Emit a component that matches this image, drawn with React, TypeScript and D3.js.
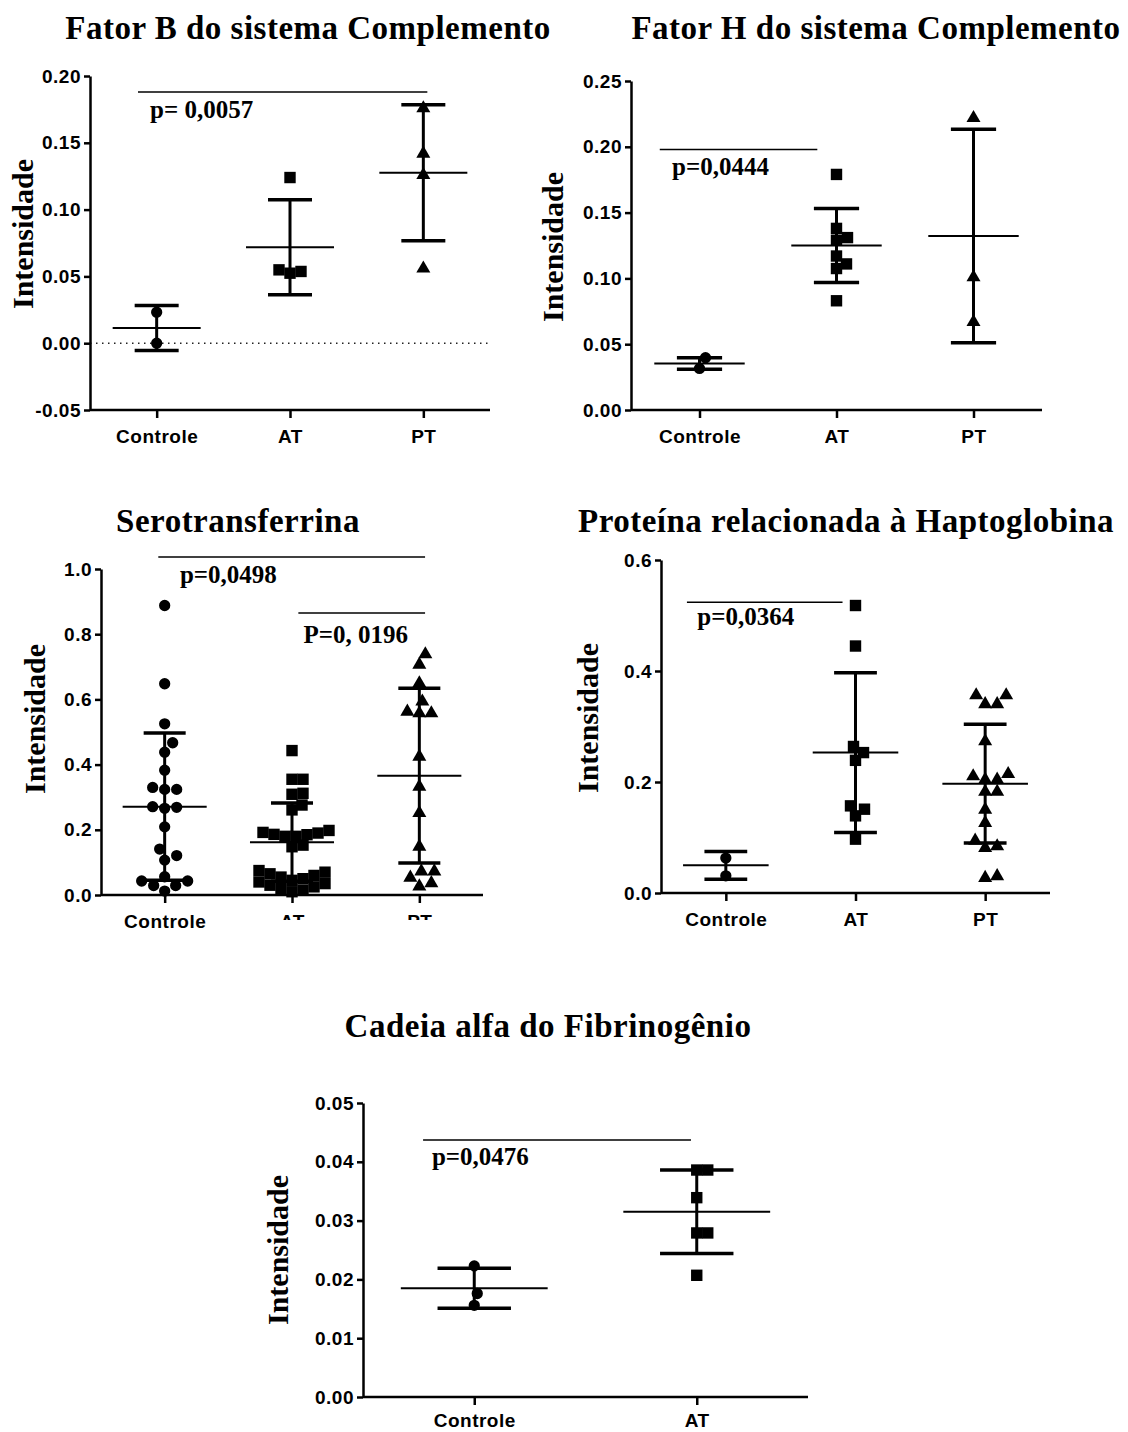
import * as d3 from "d3";
import { useEffect, useRef } from "react";

// Categories
const groups3 = ["Controle", "AT", "PT"];
const groups2 = ["Controle", "AT"];

// Fator B do sistema Complemento
const fatorBControle = [0.0232, 0.0];
const fatorBAT = [0.124, 0.0549, 0.0537, 0.0524];
const fatorBPT = [0.177, 0.143, 0.127, 0.057];
const fatorBMean = [0.0114, 0.0718, 0.1276];
const fatorBSD = [0.0169, 0.0356, 0.0509];
const fatorBTicks = [-0.05, 0, 0.05, 0.1, 0.15, 0.2];

// Fator H do sistema Complemento
const fatorHControle = [0.0397, 0.0316];
const fatorHAT = [0.179, 0.138, 0.131, 0.129, 0.117, 0.111, 0.1075, 0.083];
const fatorHPT = [0.223, 0.102, 0.068];
const fatorHMean = [0.0353, 0.125, 0.1322];
const fatorHSD = [0.0044, 0.0281, 0.0811];
const fatorHTicks = [0, 0.05, 0.1, 0.15, 0.2, 0.25];

// Serotransferrina
const seroControle = [0.888, 0.648, 0.525, 0.467, 0.438, 0.383, 0.33, 0.324, 0.324, 0.271, 0.269, 0.266, 0.209, 0.141, 0.121, 0.107, 0.056, 0.043, 0.043, 0.029, 0.029, 0.012];
const seroAT = [0.443, 0.355, 0.355, 0.312, 0.309, 0.276, 0.261, 0.198, 0.192, 0.19, 0.186, 0.185, 0.18, 0.18, 0.153, 0.148, 0.075, 0.07, 0.065, 0.06, 0.055, 0.05, 0.045, 0.04, 0.035, 0.03, 0.025, 0.02, 0.015, 0.01];
const seroPT = [0.743, 0.711, 0.654, 0.598, 0.567, 0.562, 0.562, 0.429, 0.337, 0.256, 0.153, 0.077, 0.077, 0.058, 0.041, 0.031];
const seroMean = [0.271, 0.162, 0.366];
const seroSD = [0.226, 0.12, 0.268];
const seroTicks = [0, 0.2, 0.4, 0.6, 0.8, 1.0];

// Proteína relacionada à Haptoglobina
const haptoControle = [0.063, 0.031];
const haptoAT = [0.518, 0.445, 0.264, 0.253, 0.239, 0.157, 0.151, 0.139, 0.097];
const haptoPT = [0.359, 0.359, 0.343, 0.343, 0.276, 0.217, 0.213, 0.207, 0.207, 0.185, 0.185, 0.153, 0.129, 0.097, 0.087, 0.084, 0.033, 0.03];
const haptoMean = [0.0498, 0.253, 0.197];
const haptoSD = [0.0249, 0.144, 0.107];
const haptoTicks = [0, 0.2, 0.4, 0.6];

// Cadeia alfa do Fibrinogênio
const fibControle = [0.0223, 0.0176, 0.0156];
const fibAT = [0.0386, 0.0386, 0.0339, 0.0279, 0.0279, 0.0207];
const fibMean = [0.0185, 0.0315];
const fibSD = [0.0034, 0.0071];
const fibTicks = [0, 0.01, 0.02, 0.03, 0.04, 0.05];

interface Bracket {
  from: string;
  to: string;
  d1: number;
  d2: number;
  y: number;
  text: string;
  tdx: number;
  tdy: number;
}

interface Panel {
  title: string;
  titleX: number;
  titleY: number;
  x0: number;
  x1: number;
  yTop: number;
  yBottom: number;
  domain: [number, number];
  ticks: number[];
  fmt: string;
  groups: string[];
  values: number[][];
  means: number[];
  sds: number[];
  labelX: number;
  labelY: number;
  brackets: Bracket[];
  zeroLine?: boolean;
  clipLabels?: boolean;
  labelDy?: number;
}

const panels: Panel[] = [
  {
    title: "Fator B do sistema Complemento", titleX: 308, titleY: 39,
    x0: 90, x1: 490, yTop: 76, yBottom: 410,
    domain: [-0.05, 0.2], ticks: fatorBTicks, fmt: ".2f",
    groups: groups3, values: [fatorBControle, fatorBAT, fatorBPT], means: fatorBMean, sds: fatorBSD,
    labelX: 33, labelY: 234,
    brackets: [{ from: "Controle", to: "PT", d1: -0.14, d2: 0.03, y: 0.188, text: "p= 0,0057", tdx: -0.05, tdy: 26 }],
    zeroLine: true,
  },
  {
    title: "Fator H do sistema Complemento", titleX: 876, titleY: 39,
    x0: 631, x1: 1042, yTop: 81, yBottom: 410,
    domain: [0, 0.25], ticks: fatorHTicks, fmt: ".2f",
    groups: groups3, values: [fatorHControle, fatorHAT, fatorHPT], means: fatorHMean, sds: fatorHSD,
    labelX: 563, labelY: 247,
    brackets: [{ from: "Controle", to: "AT", d1: -0.29, d2: -0.14, y: 0.198, text: "p=0,0444", tdx: -0.2, tdy: 26 }],
  },
  {
    title: "Serotransferrina", titleX: 238, titleY: 532,
    x0: 101, x1: 483, yTop: 569, yBottom: 895,
    domain: [0, 1], ticks: seroTicks, fmt: ".1f",
    groups: groups3, values: [seroControle, seroAT, seroPT], means: seroMean, sds: seroSD,
    labelX: 45, labelY: 719,
    brackets: [
      { from: "Controle", to: "PT", d1: -0.05, d2: 0.045, y: 1.037, text: "p=0,0498", tdx: 0.12, tdy: 26 },
      { from: "AT", to: "PT", d1: 0.05, d2: 0.045, y: 0.865, text: "P=0, 0196", tdx: 0.09, tdy: 30 },
    ],
    clipLabels: true,
  },
  {
    title: "Proteína relacionada à Haptoglobina", titleX: 846, titleY: 532,
    x0: 661, x1: 1050, yTop: 560, yBottom: 893,
    domain: [0, 0.6], ticks: haptoTicks, fmt: ".1f",
    groups: groups3, values: [haptoControle, haptoAT, haptoPT], means: haptoMean, sds: haptoSD,
    labelX: 598, labelY: 718,
    brackets: [{ from: "Controle", to: "AT", d1: -0.3, d2: -0.1, y: 0.524, text: "p=0,0364", tdx: -0.22, tdy: 23 }],
  },
  {
    title: "Cadeia alfa do Fibrinogênio", titleX: 548, titleY: 1037,
    x0: 363, x1: 808, yTop: 1103, yBottom: 1397,
    domain: [0, 0.05], ticks: fibTicks, fmt: ".2f",
    groups: groups2, values: [fibControle, fibAT], means: fibMean, sds: fibSD,
    labelX: 288, labelY: 1250,
    brackets: [{ from: "Controle", to: "AT", d1: -0.23, d2: -0.026, y: 0.0437, text: "p=0,0476", tdx: -0.19, tdy: 25 }],
    labelDy: 30,
  },
];

const symbols = [d3.symbolCircle, d3.symbolSquare, d3.symbolTriangle];
const symbolSizes = [100, 130, 85];
const sansFont = "'Liberation Sans', Arial, sans-serif";
const serifFont = "'Liberation Serif', 'Times New Roman', serif";

// simple greedy beeswarm: horizontal offsets for points sorted by value
function swarm(vals: number[], y: (v: number) => number, minDist: number) {
  const order = d3.range(vals.length).sort((a, b) => vals[a] - vals[b]);
  const placed: { x: number; y: number }[] = [];
  const out: number[] = new Array(vals.length).fill(0);
  for (const i of order) {
    const py = y(vals[i]);
    let best = 0;
    for (let k = 0; k < 400; k++) {
      const off = k === 0 ? 0 : (k % 2 ? 1 : -1) * Math.ceil(k / 2);
      if (placed.every((p) => Math.hypot(p.x - off, p.y - py) >= minDist)) {
        best = off;
        break;
      }
    }
    placed.push({ x: best, y: py });
    out[i] = best;
  }
  return out;
}

function drawPanel(svg: d3.Selection<SVGSVGElement, unknown, null, undefined>, p: Panel, idx: number) {
  const g = svg.append("g");
  const x = d3.scalePoint<string>().domain(p.groups).range([p.x0, p.x1]).padding(0.5);
  const y = d3.scaleLinear().domain(p.domain).range([p.yBottom, p.yTop]);
  const step = x.step();
  const fmt = d3.format(p.fmt);

  // title
  g.append("text")
    .attr("x", p.titleX)
    .attr("y", p.titleY)
    .attr("text-anchor", "middle")
    .style("font", `bold 33px ${serifFont}`)
    .style("letter-spacing", "0.5px")
    .text(p.title);

  // y label
  g.append("text")
    .attr("transform", `translate(${p.labelX},${p.labelY}) rotate(-90)`)
    .attr("text-anchor", "middle")
    .style("font", `bold 30px ${serifFont}`)
    .text("Intensidade");

  // dotted zero line
  if (p.zeroLine) {
    g.append("line")
      .attr("x1", p.x0).attr("x2", p.x1)
      .attr("y1", y(0)).attr("y2", y(0))
      .attr("stroke", "#222").attr("stroke-width", 1.5)
      .attr("stroke-dasharray", "1.5,4.5");
  }

  // axes
  const yAxis = g.append("g")
    .attr("transform", `translate(${p.x0},0)`)
    .call(d3.axisLeft(y).tickValues(p.ticks)
      .tickFormat((d) => fmt(d as number).replace("−", "-"))
      .tickSize(6).tickSizeOuter(0).tickPadding(3));
  yAxis.selectAll("path, line").attr("stroke", "#000").attr("stroke-width", 2.5);
  yAxis.selectAll("text")
    .attr("fill", "#000")
    .style("font", `bold 19px ${sansFont}`)
    .style("letter-spacing", "0.5px");

  const xAxis = g.append("g")
    .attr("transform", `translate(0,${p.yBottom})`)
    .call(d3.axisBottom(x).tickSize(8).tickSizeOuter(0));
  xAxis.select(".domain").attr("d", `M${p.x0},0H${p.x1}`);
  xAxis.selectAll("path, line").attr("stroke", "#000").attr("stroke-width", 2.5);
  const xt = xAxis.selectAll<SVGTextElement, string>("text")
    .attr("y", p.labelDy ?? 33)
    .attr("dy", null)
    .attr("fill", "#000")
    .style("font", `bold 19px ${sansFont}`)
    .style("letter-spacing", "0.5px");

  if (p.clipLabels) {
    const id = `clip-${idx}`;
    svg.append("defs").append("clipPath").attr("id", id)
      .append("rect").attr("x", -100).attr("y", -20).attr("width", 200).attr("height", 45);
    xt.filter((d) => d !== "Controle").attr("clip-path", `url(#${id})`);
  }

  // points
  p.values.forEach((vals, gi) => {
    const cx = x(p.groups[gi]) ?? 0;
    const offs = swarm(vals, y, gi === 1 ? 11 : 12);
    g.append("g")
      .selectAll("path")
      .data(vals)
      .join("path")
      .attr("transform", (d, i) => `translate(${cx + offs[i]},${y(d) + (gi === 2 ? 1.5 : 0)})`)
      .attr("d", d3.symbol(symbols[gi], symbolSizes[gi])())
      .attr("fill", "#000");
  });

  // mean and SD bars
  p.groups.forEach((grp, gi) => {
    const cx = x(grp) ?? 0;
    const m = p.means[gi];
    const s = p.sds[gi];
    const eg = g.append("g").attr("stroke", "#000");
    eg.append("line")
      .attr("x1", cx - 0.33 * step).attr("x2", cx + 0.33 * step)
      .attr("y1", y(m)).attr("y2", y(m))
      .attr("stroke-width", 2);
    eg.append("line")
      .attr("x1", cx).attr("x2", cx)
      .attr("y1", y(m + s)).attr("y2", y(m - s))
      .attr("stroke-width", 3);
    [m + s, m - s].forEach((v) => {
      eg.append("line")
        .attr("x1", cx - 0.165 * step).attr("x2", cx + 0.165 * step)
        .attr("y1", y(v)).attr("y2", y(v))
        .attr("stroke-width", 3.5);
    });
  });

  // significance brackets
  p.brackets.forEach((b) => {
    const bx1 = (x(b.from) ?? 0) + b.d1 * step;
    const bx2 = (x(b.to) ?? 0) + b.d2 * step;
    g.append("line")
      .attr("x1", bx1).attr("x2", bx2)
      .attr("y1", y(b.y)).attr("y2", y(b.y))
      .attr("stroke", "#000").attr("stroke-width", 1.5);
    g.append("text")
      .attr("x", (x(b.from) ?? 0) + b.tdx * step)
      .attr("y", y(b.y) + b.tdy)
      .style("font", `bold 25px ${serifFont}`)
      .text(b.text);
  });
}

function App() {
  const ref = useRef<SVGSVGElement | null>(null);
  useEffect(() => {
    if (!ref.current) return;
    const svg = d3.select(ref.current);
    svg.selectAll("*").remove();
    panels.forEach((p, i) => drawPanel(svg, p, i));
  }, []);
  return (
    <svg
      ref={ref}
      width={1128}
      height={1432}
      style={{ position: "absolute", left: 0, top: 0, background: "#fff" }}
    />
  );
}

export default App;
